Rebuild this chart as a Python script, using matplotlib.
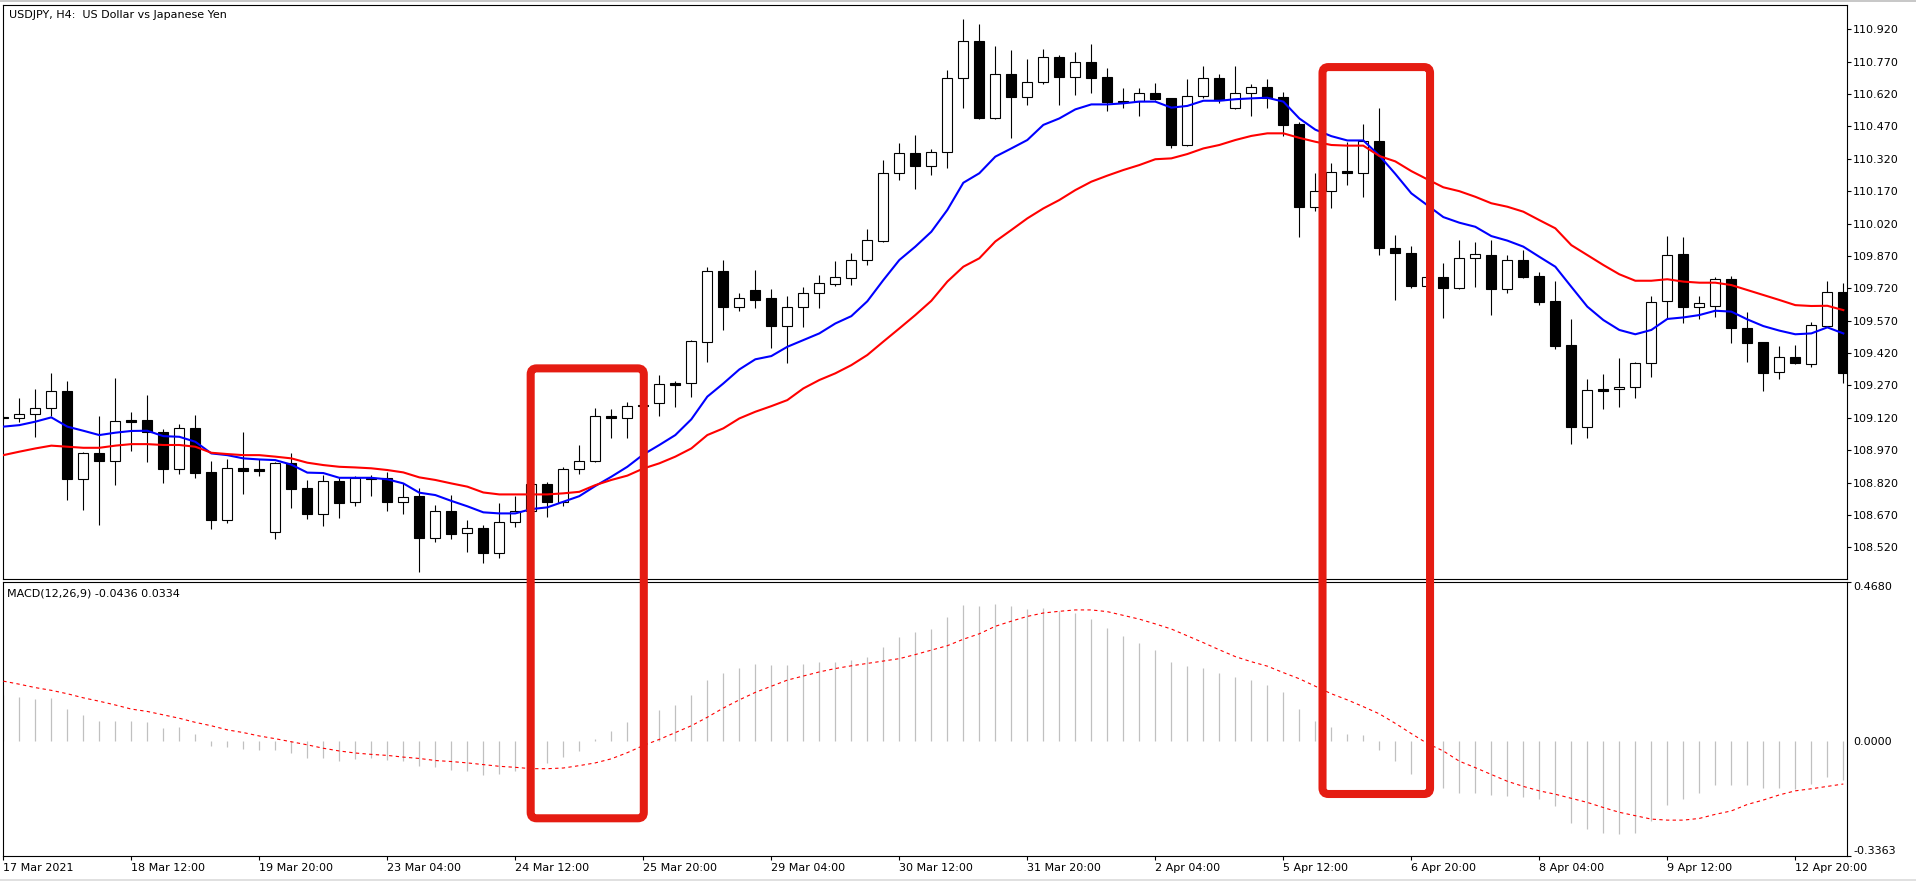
import matplotlib
matplotlib.use("Agg")
import matplotlib.pyplot as plt
from matplotlib.patches import Rectangle, FancyBboxPatch
from matplotlib.transforms import IdentityTransform
import numpy as np

# ---------------- data ----------------
title = "USDJPY, H4:  US Dollar vs Japanese Yen"
macd_title = "MACD(12,26,9) -0.0436 0.0334"

opens = [109.124, 109.117, 109.136, 109.164, 109.244, 108.835, 108.955, 108.921, 109.110, 109.110,
         109.053, 108.883, 109.073, 108.867, 108.646, 108.886, 108.881, 108.589, 108.909, 108.793,
         108.672, 108.827, 108.728, 108.840, 108.840, 108.731, 108.757, 108.564, 108.688, 108.584,
         108.608, 108.495, 108.636, 108.689, 108.812, 108.731, 108.881, 108.918, 109.128, 109.117,
         109.175, 109.187, 109.279, 109.279, 109.4725, 109.8015, 109.635, 109.712, 109.673, 109.546,
         109.635, 109.697, 109.742, 109.766, 109.849, 109.941, 110.253, 110.345, 110.288, 110.350,
         110.693, 110.864, 110.510, 110.713, 110.608, 110.674, 110.790, 110.701, 110.768, 110.699,
         110.588, 110.590, 110.624, 110.600, 110.384, 110.613, 110.693, 110.554, 110.624, 110.651,
         110.605, 110.481, 110.095, 110.172, 110.262, 110.253, 110.403, 109.905, 109.882, 109.732,
         109.774, 109.720, 109.859, 109.873, 109.715, 109.850, 109.777, 109.660, 109.457, 109.076,
         109.252, 109.252, 109.261, 109.372, 109.660, 109.880, 109.635, 109.640, 109.762, 109.534,
         109.470, 109.331, 109.403, 109.368, 109.547, 109.704]
highs = [109.130, 109.210, 109.252, 109.329, 109.291, 108.963, 109.128, 109.303, 109.148, 109.226,
         109.068, 109.090, 109.133, 108.920, 108.928, 109.054, 108.928, 108.917, 108.958, 108.832,
         108.855, 108.847, 108.851, 108.855, 108.871, 108.816, 108.795, 108.716, 108.762, 108.646,
         108.623, 108.723, 108.757, 108.824, 108.824, 108.894, 108.994, 109.164, 109.159, 109.195,
         109.190, 109.318, 109.290, 109.480, 109.820, 109.851, 109.697, 109.805, 109.716, 109.685,
         109.724, 109.780, 109.846, 109.882, 109.993, 110.314, 110.392, 110.430, 110.365, 110.731,
         110.968, 110.945, 110.843, 110.824, 110.781, 110.829, 110.801, 110.813, 110.852, 110.739,
         110.647, 110.647, 110.670, 110.603, 110.688, 110.750, 110.711, 110.750, 110.665, 110.690,
         110.631, 110.490, 110.253, 110.299, 110.400, 110.481, 110.554, 109.967, 109.917, 109.790,
         109.836, 109.944, 109.936, 109.944, 109.874, 109.897, 109.797, 109.754, 109.576, 109.300,
         109.323, 109.397, 109.378, 109.684, 109.964, 109.959, 109.684, 109.772, 109.776, 109.611,
         109.470, 109.452, 109.457, 109.565, 109.754, 109.743]
lows = [109.110, 109.102, 109.030, 109.130, 108.739, 108.693, 108.623, 108.809, 108.968, 108.914,
        108.819, 108.860, 108.843, 108.605, 108.634, 108.767, 108.850, 108.558, 108.700, 108.649,
        108.620, 108.657, 108.711, 108.758, 108.690, 108.674, 108.407, 108.546, 108.557, 108.500,
        108.449, 108.469, 108.616, 108.677, 108.662, 108.713, 108.858, 108.915, 109.028, 109.025,
        109.160, 109.128, 109.171, 109.218, 109.380, 109.527, 109.616, 109.627, 109.445, 109.372,
        109.543, 109.627, 109.730, 109.735, 109.828, 109.936, 110.222, 110.181, 110.245, 110.276,
        110.557, 110.505, 110.505, 110.415, 110.569, 110.665, 110.569, 110.616, 110.623, 110.543,
        110.554, 110.518, 110.593, 110.371, 110.380, 110.603, 110.577, 110.552, 110.520, 110.557,
        110.426, 109.959, 110.080, 110.091, 110.199, 110.144, 109.874, 109.668, 109.720, 109.710,
        109.581, 109.715, 109.727, 109.596, 109.700, 109.766, 109.642, 109.437, 108.998, 109.025,
        109.161, 109.171, 109.213, 109.310, 109.580, 109.558, 109.578, 109.588, 109.468, 109.377,
        109.245, 109.298, 109.370, 109.354, 109.540, 109.282]
closes = [109.120, 109.136, 109.164, 109.244, 108.838, 108.955, 108.921, 109.105, 109.102, 109.053,
          108.883, 109.073, 108.866, 108.646, 108.886, 108.875, 108.875, 108.909, 108.791, 108.672,
          108.826, 108.727, 108.840, 108.838, 108.732, 108.754, 108.564, 108.688, 108.581, 108.608,
          108.495, 108.636, 108.689, 108.812, 108.731, 108.881, 108.918, 109.128, 109.117, 109.175,
          109.180, 109.275, 109.273, 109.476, 109.8015, 109.635, 109.673, 109.666, 109.546, 109.635,
          109.697, 109.743, 109.771, 109.851, 109.944, 110.253, 110.345, 110.288, 110.350, 110.693,
          110.864, 110.510, 110.713, 110.608, 110.674, 110.790, 110.701, 110.768, 110.696, 110.585,
          110.585, 110.624, 110.597, 110.384, 110.613, 110.693, 110.593, 110.624, 110.651, 110.600,
          110.477, 110.095, 110.172, 110.260, 110.253, 110.403, 109.905, 109.882, 109.732, 109.774,
          109.720, 109.859, 109.877, 109.715, 109.850, 109.774, 109.657, 109.454, 109.078, 109.248,
          109.245, 109.261, 109.372, 109.658, 109.874, 109.635, 109.650, 109.762, 109.534, 109.468,
          109.329, 109.403, 109.372, 109.550, 109.704, 109.326]

ma_fast = [109.079, 109.086, 109.102, 109.122, 109.079, 109.060, 109.040, 109.051, 109.059, 109.060,
           109.035, 109.032, 109.009, 108.955, 108.947, 108.932, 108.927, 108.924, 108.903, 108.866,
           108.864, 108.842, 108.842, 108.842, 108.835, 108.816, 108.773, 108.762, 108.735, 108.710,
           108.682, 108.677, 108.677, 108.697, 108.705, 108.731, 108.757, 108.804, 108.847, 108.893,
           108.950, 108.994, 109.040, 109.113, 109.218, 109.279, 109.344, 109.391, 109.406, 109.449,
           109.480, 109.511, 109.557, 109.591, 109.660, 109.758, 109.851, 109.913, 109.982, 110.083,
           110.209, 110.253, 110.330, 110.368, 110.407, 110.477, 110.507, 110.549, 110.572, 110.572,
           110.577, 110.585, 110.585, 110.557, 110.565, 110.589, 110.589, 110.596, 110.600, 110.603,
           110.585, 110.507, 110.455, 110.425, 110.405, 110.405, 110.335, 110.250, 110.160, 110.105,
           110.050, 110.024, 110.005, 109.962, 109.941, 109.913, 109.866, 109.820, 109.727, 109.635,
           109.573, 109.527, 109.507, 109.527, 109.578, 109.585, 109.596, 109.616, 109.612, 109.576,
           109.545, 109.524, 109.507, 109.511, 109.539, 109.511]
ma_slow = [108.947, 108.963, 108.978, 108.991, 108.986, 108.981, 108.981, 108.991, 108.998, 108.998,
           108.994, 108.994, 108.986, 108.958, 108.952, 108.947, 108.947, 108.940, 108.932, 108.912,
           108.901, 108.893, 108.890, 108.886, 108.878, 108.867, 108.844, 108.832, 108.816, 108.801,
           108.774, 108.765, 108.765, 108.765, 108.765, 108.770, 108.777, 108.808, 108.832, 108.852,
           108.885, 108.909, 108.940, 108.978, 109.040, 109.071, 109.117, 109.148, 109.174, 109.202,
           109.256, 109.295, 109.326, 109.364, 109.411, 109.473, 109.534, 109.596, 109.662, 109.751,
           109.820, 109.859, 109.937, 109.990, 110.044, 110.090, 110.129, 110.175, 110.214, 110.242,
           110.268, 110.291, 110.318, 110.322, 110.342, 110.368, 110.384, 110.407, 110.426, 110.438,
           110.438, 110.417, 110.399, 110.384, 110.381, 110.381, 110.333, 110.308, 110.263, 110.225,
           110.188, 110.170, 110.144, 110.114, 110.098, 110.075, 110.036, 109.998, 109.920, 109.874,
           109.828, 109.785, 109.755, 109.755, 109.762, 109.751, 109.746, 109.746, 109.735, 109.712,
           109.689, 109.666, 109.642, 109.638, 109.639, 109.619]

macd_main = [0.135, 0.130, 0.125, 0.127, 0.094, 0.079, 0.061, 0.061, 0.061, 0.056,
             0.038, 0.041, 0.023, -0.013, -0.016, -0.021, -0.025, -0.025, -0.033, -0.048,
             -0.048, -0.058, -0.051, -0.048, -0.055, -0.058, -0.073, -0.075, -0.085, -0.088,
             -0.099, -0.095, -0.086, -0.078, -0.063, -0.045, -0.028, 0.008, 0.031, 0.056,
             0.075, 0.093, 0.108, 0.135, 0.180, 0.200, 0.217, 0.227, 0.224, 0.224,
             0.227, 0.233, 0.233, 0.239, 0.249, 0.278, 0.307, 0.320, 0.331, 0.364,
             0.400, 0.397, 0.402, 0.397, 0.390, 0.392, 0.382, 0.376, 0.358, 0.334,
             0.310, 0.290, 0.269, 0.234, 0.222, 0.216, 0.200, 0.189, 0.181, 0.166,
             0.145, 0.094, 0.059, 0.041, 0.023, 0.019, -0.025, -0.058, -0.095, -0.117,
             -0.137, -0.150, -0.152, -0.157, -0.160, -0.162, -0.170, -0.189, -0.238, -0.256,
             -0.268, -0.273, -0.268, -0.234, -0.186, -0.170, -0.152, -0.127, -0.127, -0.127,
             -0.138, -0.138, -0.140, -0.124, -0.103, -0.112]
macd_signal = [0.177, 0.168, 0.158, 0.150, 0.140, 0.128, 0.118, 0.107, 0.095, 0.088,
               0.078, 0.068, 0.056, 0.046, 0.034, 0.026, 0.016, 0.008, -0.001, -0.010,
               -0.020, -0.028, -0.034, -0.038, -0.041, -0.046, -0.050, -0.056, -0.059, -0.063,
               -0.068, -0.073, -0.076, -0.080, -0.080, -0.078, -0.071, -0.063, -0.051, -0.033,
               -0.012, 0.006, 0.026, 0.046, 0.071, 0.098, 0.122, 0.144, 0.162, 0.180,
               0.192, 0.204, 0.214, 0.222, 0.229, 0.236, 0.243, 0.255, 0.268, 0.281,
               0.300, 0.316, 0.338, 0.353, 0.367, 0.377, 0.382, 0.386, 0.386, 0.381,
               0.370, 0.359, 0.345, 0.330, 0.310, 0.290, 0.269, 0.249, 0.234, 0.221,
               0.202, 0.184, 0.162, 0.140, 0.122, 0.102, 0.081, 0.053, 0.023, -0.006,
               -0.028, -0.058, -0.077, -0.097, -0.117, -0.132, -0.145, -0.155, -0.167, -0.179,
               -0.194, -0.208, -0.218, -0.228, -0.231, -0.231, -0.226, -0.214, -0.204, -0.185,
               -0.172, -0.157, -0.145, -0.139, -0.132, -0.125]

x_tick_labels = ["17 Mar 2021", "18 Mar 12:00", "19 Mar 20:00", "23 Mar 04:00", "24 Mar 12:00",
                 "25 Mar 20:00", "29 Mar 04:00", "30 Mar 12:00", "31 Mar 20:00", "2 Apr 04:00",
                 "5 Apr 12:00", "6 Apr 20:00", "8 Apr 04:00", "9 Apr 12:00", "12 Apr 20:00"]
x_tick_bars = [0, 8, 16, 24, 32, 40, 48, 56, 64, 72, 80, 88, 96, 104, 112]
price_ticks = [110.920, 110.770, 110.620, 110.470, 110.320, 110.170, 110.020, 109.870, 109.720,
               109.570, 109.420, 109.270, 109.120, 108.970, 108.820, 108.670, 108.520]
price_range = (108.3731, 111.0326)
macd_ticks = [0.4680, 0.0, -0.3363]
macd_tick_labels = ["0.4680", "0.0000", "-0.3363"]
# highlight boxes: (left bar, right bar, top price, bottom MACD value)
highlight_boxes = [(32.96, 40.03, 109.349, -0.2256),
                   (82.45, 89.17, 110.745, -0.1543)]

# ---------------- figure layout (pixels) ----------------
W, H, DPI = 1916, 881, 100
fig = plt.figure(figsize=(W / DPI, H / DPI), dpi=DPI, facecolor="white")
plt.rcParams["font.family"] = ["DejaVu Sans"]


def frect(l, t, r, b):
    return [l / W, 1 - b / H, (r - l) / W, (b - t) / H]


ax = fig.add_axes(frect(3, 5, 1847, 579))
axm = fig.add_axes(frect(3, 582, 1847, 856))

n = len(closes)
xs = np.arange(n)
xlim = (-0.02, 115.23)

# ---------------- candles ----------------
bw = 0.62
for i in range(n):
    o, h, l, c = opens[i], highs[i], lows[i], closes[i]
    ax.vlines(i, l, h, color="black", lw=0.8, zorder=2)
    fc = "white" if c >= o else "black"
    ax.add_patch(Rectangle((i - bw / 2, min(o, c)), bw, abs(c - o),
                           facecolor=fc, edgecolor="black", lw=0.8, zorder=3))

ax.plot(xs, ma_fast, color="#0000FF", lw=1.5, zorder=4)
ax.plot(xs, ma_slow, color="#FF0000", lw=1.5, zorder=4)
ax.set_xlim(*xlim)
ax.set_ylim(*price_range)

# ---------------- MACD ----------------
axm.vlines(xs, 0, macd_main, color="#C0C0C0", lw=0.9, zorder=2)
axm.plot(xs, macd_signal, color="#FF0000", lw=0.8, ls=(0, (3, 3)), zorder=3)
axm.set_xlim(*xlim)
axm.set_ylim(macd_ticks[2], macd_ticks[0])

# ---------------- axes styling ----------------
for a in (ax, axm):
    a.set_facecolor("white")
    for s in a.spines.values():
        s.set_linewidth(0.8)
        s.set_color("black")
    a.yaxis.tick_right()
    a.tick_params(axis="y", which="both", direction="out", length=3, width=0.8,
                  pad=1.5, labelsize=8, right=True, left=False, colors="black")

ax.set_yticks(price_ticks)
ax.set_yticklabels([f"{p:.3f}" for p in price_ticks])
ax.tick_params(axis="x", bottom=False, labelbottom=False)

axm.set_yticks(macd_ticks)
axm.set_yticklabels(macd_tick_labels)
ylabels = axm.get_yticklabels()
ylabels[0].set_va("top")
ylabels[2].set_va("bottom")
axm.yaxis.get_major_ticks()[1].tick2line.set_visible(False)

axm.set_xticks(x_tick_bars)
axm.set_xticklabels(x_tick_labels, ha="left")
axm.tick_params(axis="x", direction="out", length=3, width=0.8, pad=2, labelsize=8)

# ---------------- texts ----------------
fig.text(9 / W, 1 - 15 / H, title, fontsize=8, ha="left", va="center")
fig.text(7 / W, 1 - 593 / H, macd_title, fontsize=8, ha="left", va="center")

# window frame lines
fig.add_artist(Rectangle((0, 1 - 2 / H), 1, 2 / H, transform=fig.transFigure,
                         facecolor="#C8C8C8", edgecolor="none"))
fig.add_artist(Rectangle((0, 0), 1, 2 / H, transform=fig.transFigure,
                         facecolor="#E0E0E0", edgecolor="none"))

# ---------------- highlight rectangles ----------------
for (x0, x1, ytop, ybot) in highlight_boxes:
    X0, Yt = ax.transData.transform((x0, ytop))
    X1, _ = ax.transData.transform((x1, ytop))
    _, Yb = axm.transData.transform((x0, ybot))
    box = FancyBboxPatch((X0, Yb), X1 - X0, Yt - Yb,
                         boxstyle="round,pad=0,rounding_size=6",
                         transform=IdentityTransform(), fill=False,
                         edgecolor="#E51C12", lw=5.8, zorder=20)
    fig.add_artist(box)

fig.savefig("out.png", dpi=DPI, facecolor="white")
